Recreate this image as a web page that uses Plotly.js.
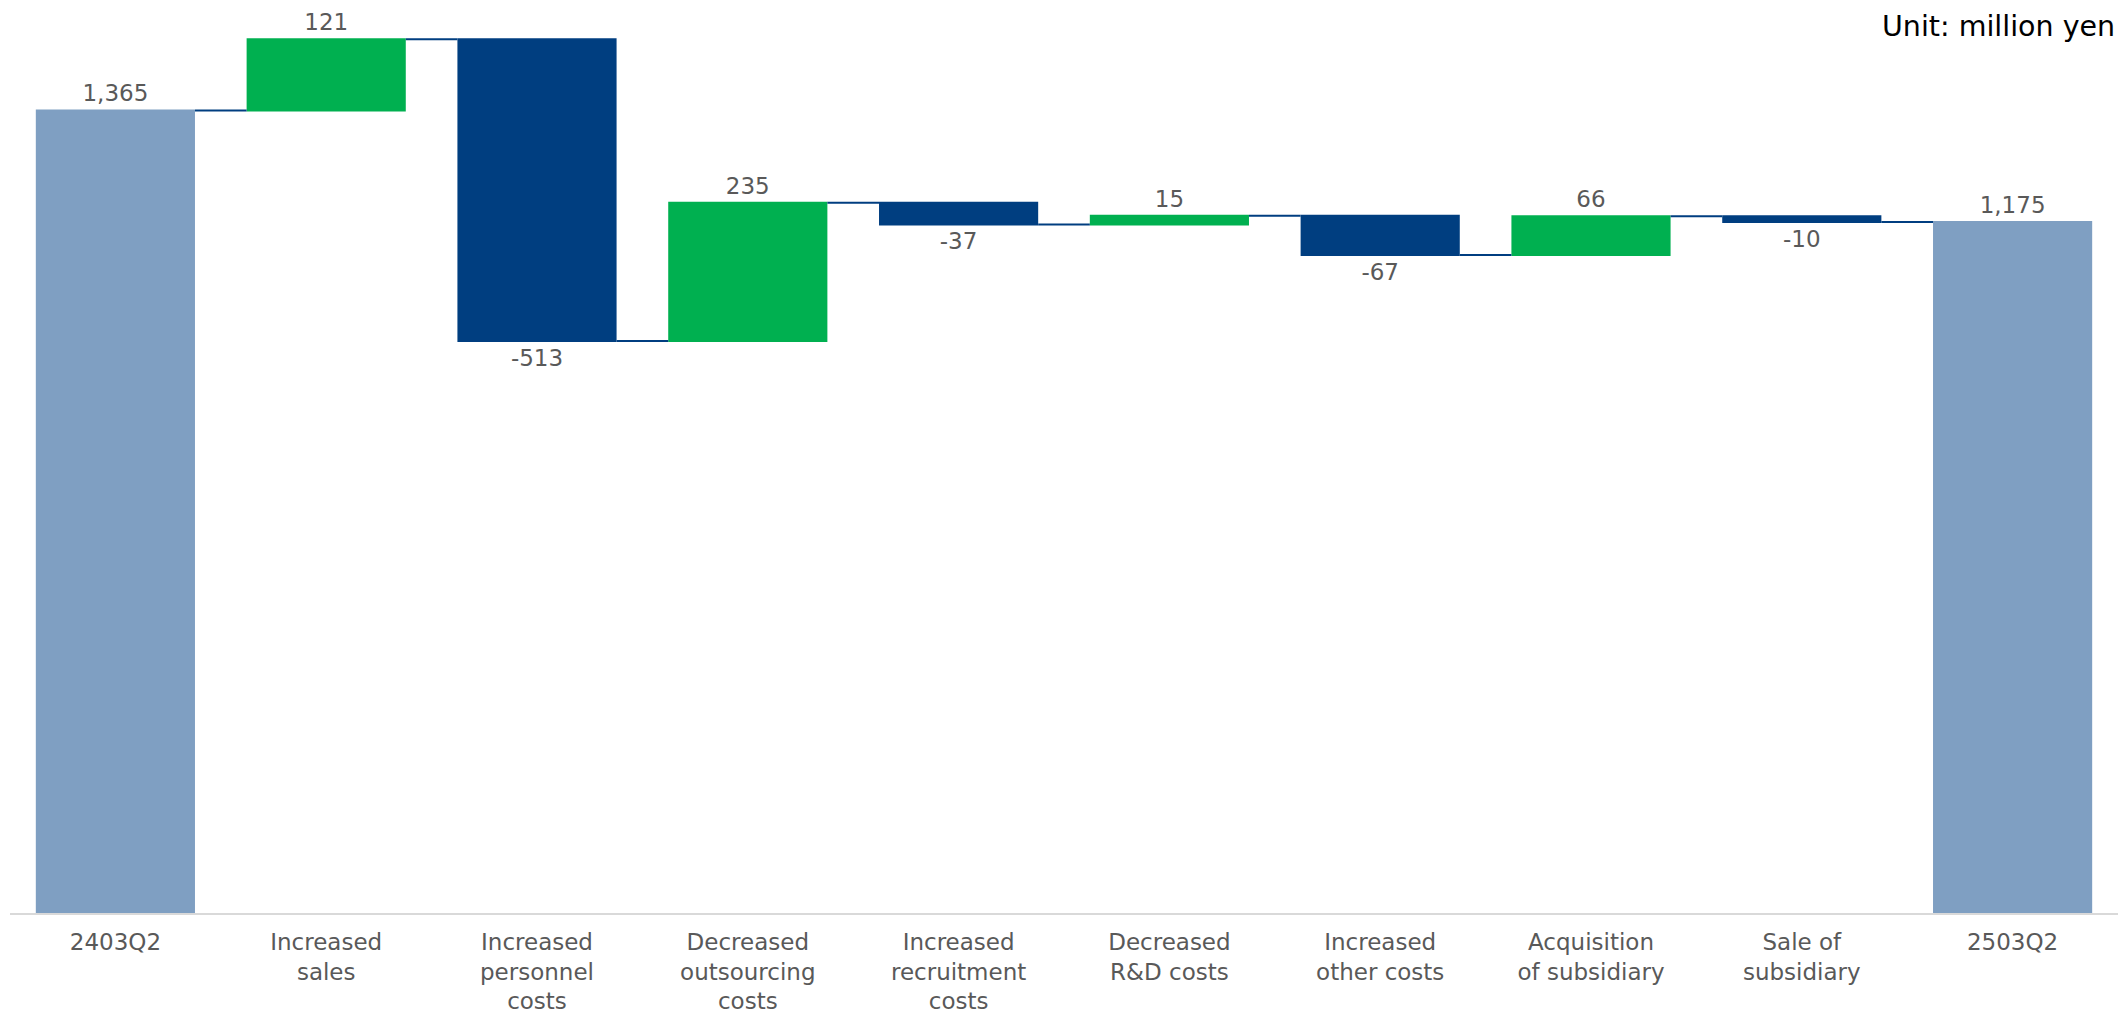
<!DOCTYPE html>
<html>
<head>
<meta charset="utf-8">
<script src="https://cdn.plot.ly/plotly-3.0.1.min.js"></script>
<style>html,body{margin:0;padding:0;background:#fff;}#chart{width:2118px;height:1016px;}</style>
</head>
<body>
<div id="chart"></div>
<script>
const categories = ["2403Q2", "Increased<br>sales", "Increased<br>personnel<br>costs", "Decreased<br>outsourcing<br>costs", "Increased<br>recruitment<br>costs", "Decreased<br>R&D costs", "Increased<br>other costs", "Acquisition<br>of subsidiary", "Sale of<br>subsidiary", "2503Q2"];
const values = [1365, 121, -513, 235, -37, 15, -67, 66, -10, 1175];
const measures = ["absolute", "relative", "relative", "relative", "relative", "relative", "relative", "relative", "relative", "total"];
const unitLabel = "Unit: million yen";

const FONT = "'DejaVu Sans', sans-serif";
const labels = values.map(v => v.toLocaleString('en-US'));

const trace = {
  type: 'waterfall',
  x: categories,
  y: values,
  measure: measures,
  text: labels,
  textposition: 'outside',
  textfont: {family: FONT, size: 23, color: '#595959'},
  cliponaxis: false,
  increasing: {marker: {color: '#00B050'}},
  decreasing: {marker: {color: '#003E80'}},
  totals: {marker: {color: '#7F9FC2'}},
  connector: {mode: 'between', line: {color: '#003E80', width: 2}},
  hoverinfo: 'none'
};

const layout = {
  width: 2118, height: 1016,
  margin: {l: 10, r: 0, t: 31, b: 103},
  paper_bgcolor: '#ffffff', plot_bgcolor: '#ffffff',
  showlegend: false,
  waterfallgap: 0.245,
  xaxis: {
    type: 'category',
    showgrid: false, zeroline: false,
    showline: true, linecolor: '#D9D9D9', linewidth: 2,
    ticks: 'outside', ticklen: 7, tickcolor: 'rgba(0,0,0,0)',
    tickfont: {family: FONT, size: 23, color: '#595959'}
  },
  yaxis: {
    range: [0, 1500], visible: false, showgrid: false, zeroline: false
  },
  annotations: [{
    text: unitLabel, xref: 'paper', yref: 'paper', x: 1, y: 1,
    xanchor: 'right', yanchor: 'top', yshift: 23, xshift: -1, showarrow: false,
    font: {family: FONT, size: 28.5, color: '#000000'}
  }]
};

Plotly.newPlot('chart', [trace], layout, {displayModeBar: false, staticPlot: true});
</script>
</body>
</html>
